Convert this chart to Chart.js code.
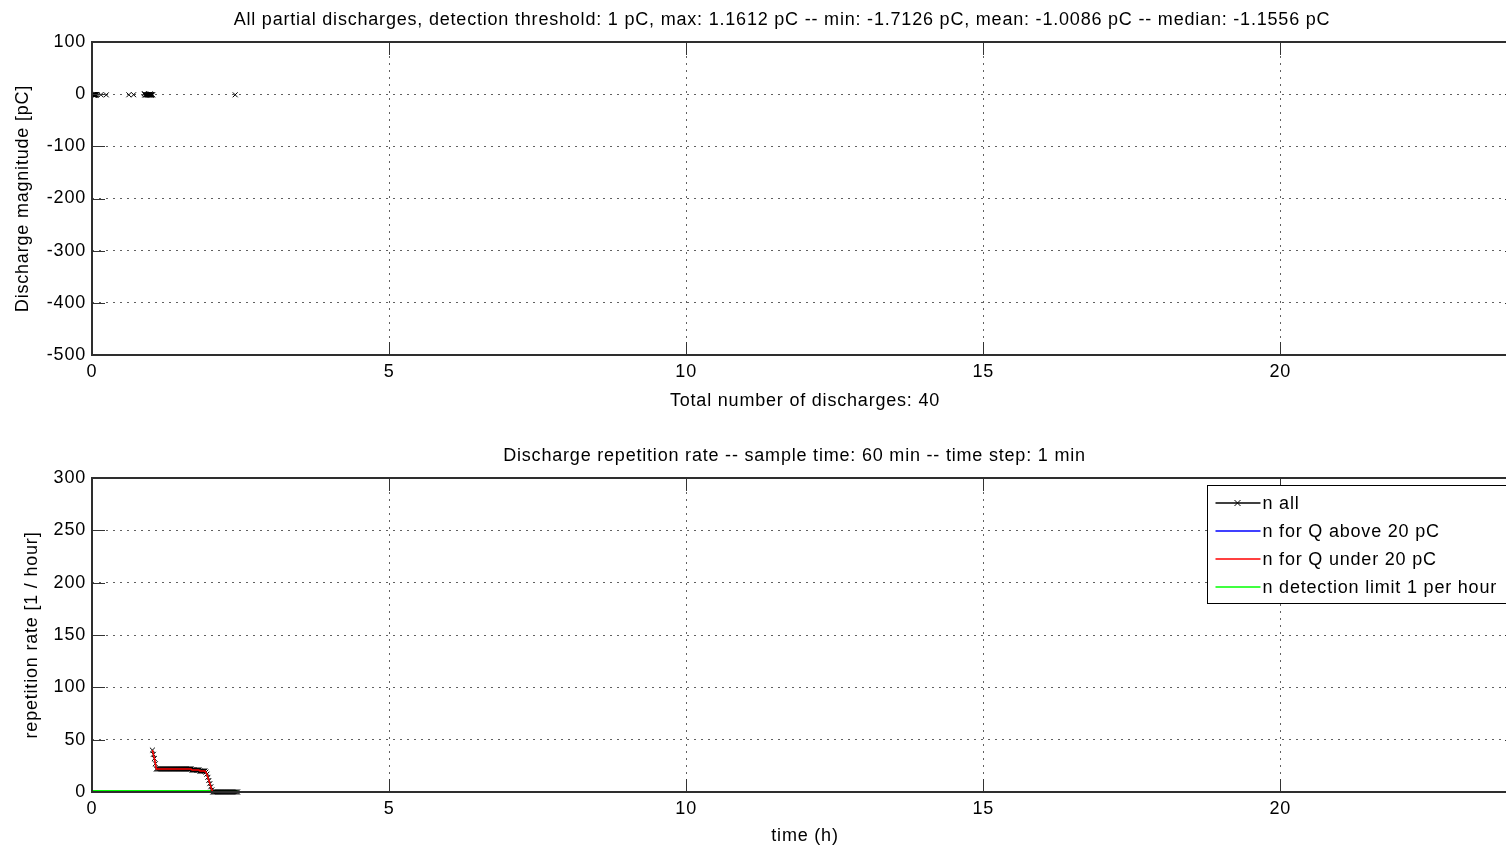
<!DOCTYPE html>
<html><head><meta charset="utf-8">
<script src="https://cdn.jsdelivr.net/npm/chart.js@4.4.1/dist/chart.umd.min.js"></script>
<style>
html,body{margin:0;padding:0;background:#fff;overflow:hidden;width:1506px;height:851px;}
#wrap{position:relative;width:1506px;height:851px;overflow:hidden;background:#fff;}
.box{position:absolute;left:0;width:1560px;}
#top{top:0;height:420px;}
#bot{top:420px;height:431px;}
</style></head><body>
<div id="wrap"><div class="box" id="top"><canvas id="c1"></canvas></div><div class="box" id="bot"><canvas id="c2"></canvas></div></div>
<script>
// ---- data ----
const xTicksH = [0, 5, 10, 15, 20];
const yTicksTop = [-500, -400, -300, -200, -100, 0, 100];
const yTicksBottom = [0, 50, 100, 150, 200, 250, 300];

const dischargeTimesH = [0.010,0.015,0.020,0.025,0.030,0.033,0.036,0.040,0.043,0.047,0.050,0.055,0.060,0.070,0.085,0.150,0.240,
  0.620,0.700,
  0.880,0.890,0.900,0.910,0.920,0.930,0.940,0.950,0.955,0.960,0.965,0.970,0.975,0.980,0.985,0.990,0.995,1.000,1.010,1.020,
  2.410];
const dischargeMagnitudesPC = [-1.20,-1.10,-1.30,-0.90,-1.50,-1.16,-1.40,-0.80,-1.7126,-1.20,-1.00,-1.30,-1.15,-1.25,-0.70,-1.10,-1.35,
  -1.20,-1.05,
  1.1612,-1.30,-1.45,-1.20,-1.16,-1.10,-1.60,-0.95,-1.25,-1.20,-1.15,-1.40,-1.05,0.60,-1.30,-1.20,-1.50,-1.10,-1.17,-1.20,
  -1.25];

const rateTimesMin = [61,62,63,64,65,66,67,68,69,70,71,72,73,74,75,76,77,78,79,80,81,82,83,84,85,86,87,88,89,90,
  91,92,93,94,95,96,97,98,99,100,101,102,103,104,105,106,107,108,109,110,111,112,113,114,115,116,117,118,119,120,
  121,122,123,124,125,126,127,128,129,130,131,132,133,134,135,136,137,138,139,140,141,142,143,144,145,146,147];
const rateAll = [40,36,32,27,
  22,22,22,22,22,22,22,22,22,22,22,22,22,22,22,22,22,22,22,22,22,22,22,22,22,22,22,22,22,22,22,22,22,22,22,22,
  21,21,21,21,21,21,21,21,
  20,20,20,20,20,20,
  19,17,14,11,8,5,2,
  0,0,0,0,0,0,0,0,0,0,0,0,0,0,0,0,0,0,0,0,0,0,0,0,0,0];
const rateAbove20 = [0,0,0,0,0,0,0,0,0,0,0,0,0,0,0,0,0,0,0,0,0,0,0,0,0,0,0,0,0,0,
  0,0,0,0,0,0,0,0,0,0,0,0,0,0,0,0,0,0,0,0,0,0,0,0,0,0,0,0,0,0,
  0,0,0,0,0,0,0,0,0,0,0,0,0,0,0,0,0,0,0,0,0,0,0,0,0,0,0];
const rateUnder20 = [40,36,32,27,
  22,22,22,22,22,22,22,22,22,22,22,22,22,22,22,22,22,22,22,22,22,22,22,22,22,22,22,22,22,22,22,22,22,22,22,22,
  21,21,21,21,21,21,21,21,
  20,20,20,20,20,20,
  19,17,14,11,8,5,2,
  0,0,0,0,0,0,0,0,0,0,0,0,0,0,0,0,0,0,0,0,0,0,0,0,0,0];
const detectionLimitTimesH = [0, 2.45];
const detectionLimitRate = [1, 1];

// ---- rendering ----
const FAM = '"Liberation Sans", Arial, sans-serif';
const SPACING = '0.8px';
const fTitle = {family: FAM, size: 18, weight: 'normal', lineHeight: 1.2};
const fTick = {family: FAM, size: 18, weight: 'normal'};

const spacingPlugin = {
  id: 'spacing',
  beforeLayout(chart) { chart.ctx.letterSpacing = SPACING; },
  beforeDraw(chart) { chart.ctx.letterSpacing = SPACING; }
};

const framePlugin = {
  id: 'frame',
  afterLayout(chart, args, opts) {
    if (opts.titleCenter && chart.titleBlock) {
      chart.titleBlock.left = 0;
      chart.titleBlock.right = 2 * opts.titleCenter;
    }
  },
  afterDraw(chart, args, opts) {
    const {ctx, chartArea: a} = chart;
    const xs = chart.scales.x, ys = chart.scales.y;
    const L = 13;
    ctx.save();
    ctx.strokeStyle = '#333';
    ctx.lineWidth = 1;
    ctx.beginPath();
    xs.ticks.forEach(t => {
      const p = Math.round(xs.getPixelForValue(t.value)) + 0.5;
      ctx.moveTo(p, a.bottom); ctx.lineTo(p, a.bottom - L);
      ctx.moveTo(p, a.top); ctx.lineTo(p, a.top + L);
    });
    ys.ticks.forEach(t => {
      const p = Math.round(ys.getPixelForValue(t.value)) + 0.5;
      ctx.moveTo(a.left, p); ctx.lineTo(a.left + L, p);
      ctx.moveTo(a.right, p); ctx.lineTo(a.right - L, p);
    });
    ctx.stroke();
    ctx.lineWidth = 2;
    ctx.strokeStyle = '#2e2e2e';
    ctx.strokeRect(a.left, a.top, a.right - a.left, a.bottom - a.top);
    ctx.restore();
  }
};

const legendPlugin = {
  id: 'boxLegend',
  afterDraw(chart, args, opts) {
    if (!opts.enabled) return;
    const {ctx, chartArea: a} = chart;
    const x0 = Math.round(a.right - 311) + 0.5, y0 = Math.round(a.top + 7) + 0.5, w = 310, h = 118;
    ctx.save();
    ctx.letterSpacing = SPACING;
    ctx.fillStyle = '#fff';
    ctx.fillRect(x0, y0, w, h);
    ctx.strokeStyle = '#000';
    ctx.lineWidth = 1;
    ctx.strokeRect(x0, y0, w, h);
    ctx.font = '18px ' + FAM;
    ctx.textBaseline = 'middle';
    ctx.textAlign = 'left';
    chart.data.datasets.forEach((ds, i) => {
      const y = Math.round(y0 + 17 + i * 28.3);
      ctx.strokeStyle = opts.colors[i];
      ctx.lineWidth = 1.6;
      ctx.beginPath();
      ctx.moveTo(x0 + 8, y); ctx.lineTo(x0 + 53, y);
      ctx.stroke();
      if (ds.pointRadius > 0) {
        const cx = x0 + 30, r = 3;
        ctx.lineWidth = 1;
        ctx.beginPath();
        ctx.moveTo(cx - r, y - r); ctx.lineTo(cx + r, y + r);
        ctx.moveTo(cx - r, y + r); ctx.lineTo(cx + r, y - r);
        ctx.stroke();
      }
      ctx.fillStyle = '#000';
      ctx.fillText(ds.label, x0 + 55, y + 1);
    });
    ctx.restore();
  }
};

function xScale(titleText, height) {
  return {
    type: 'linear', min: 0, max: 24,
    afterBuildTicks: s => { s.ticks = xTicksH.map(v => ({value: v})); },
    ticks: {padding: 6, font: fTick, color: '#000', maxRotation: 0, autoSkip: false},
    grid: {drawTicks: false, color: 'rgba(0,0,0,0.62)', lineWidth: 1},
    border: {display: false, dash: [2, 5]},
    title: {display: true, text: titleText, font: fTitle, color: '#000', padding: 0},
    afterFit: s => { s.height = height; }
  };
}
function yScale(titleText, min, max, ticksArr, width) {
  return {
    type: 'linear', min: min, max: max,
    afterBuildTicks: s => { s.ticks = ticksArr.map(v => ({value: v})); },
    ticks: {padding: 6, font: fTick, color: '#000', autoSkip: false},
    grid: {drawTicks: false, color: 'rgba(0,0,0,0.62)', lineWidth: 1},
    border: {display: false, dash: [2, 5]},
    title: {display: true, text: titleText, font: fTitle, color: '#000', padding: 0},
    afterFit: s => { s.width = width; }
  };
}

new Chart(document.getElementById('c1'), {
  type: 'scatter',
  data: {
    datasets: [{
      label: 'discharges',
      data: dischargeTimesH.map((t, i) => ({x: t, y: dischargeMagnitudesPC[i]})),
      pointStyle: 'crossRot', pointRadius: 3.5, pointBorderWidth: 1,
      borderColor: '#000', backgroundColor: '#000', showLine: false
    }]
  },
  options: {
    responsive: true, maintainAspectRatio: false, animation: false, events: [],
    layout: {padding: {left: 11.9, right: 42, top: 0, bottom: 8.4}},
    scales: {
      x: xScale('Total number of discharges: 40', 56.6),
      y: yScale('Discharge magnitude [pC]', -500, 100, yTicksTop, 80.1)
    },
    plugins: {
      legend: {display: false}, tooltip: {enabled: false},
      title: {display: true, text: 'All partial discharges, detection threshold: 1 pC, max: 1.1612 pC -- min: -1.7126 pC, mean: -1.0086 pC -- median: -1.1556 pC',
        font: fTitle, color: '#000', padding: {top: 8.8, bottom: 11.6}},
      frame: {titleCenter: 782},
      boxLegend: {enabled: false}
    }
  },
  plugins: [spacingPlugin, framePlugin, legendPlugin]
});

const mk = (ys) => rateTimesMin.map((m, i) => ({x: m / 60, y: ys[i]}));
new Chart(document.getElementById('c2'), {
  type: 'scatter',
  data: {
    datasets: [
      {label: 'n all', data: mk(rateAll), borderColor: '#000', backgroundColor: '#000', borderWidth: 1,
        pointStyle: 'crossRot', pointRadius: 3.5, pointBorderWidth: 1, showLine: true, order: 1, clip: false},
      {label: 'n for Q above 20 pC', data: mk(rateAbove20), borderColor: '#0000ff', borderWidth: 1,
        pointRadius: 0, showLine: true, order: 3, clip: false},
      {label: 'n for Q under 20 pC', data: mk(rateUnder20), borderColor: '#ff0000', borderWidth: 1.5,
        pointRadius: 0, showLine: true, order: 0, clip: false},
      {label: 'n detection limit 1 per hour', data: detectionLimitTimesH.map((t, i) => ({x: t, y: detectionLimitRate[i]})),
        borderColor: '#00ff00', borderWidth: 1.8, pointRadius: 0, showLine: true, order: 2, clip: false}
    ]
  },
  options: {
    responsive: true, maintainAspectRatio: false, animation: false, events: [],
    layout: {padding: {left: 21.4, right: 42, top: 0, bottom: 4.4}},
    scales: {
      x: xScale('time (h)', 54.6),
      y: yScale('repetition rate [1 / hour]', 0, 300, yTicksBottom, 70.6)
    },
    plugins: {
      legend: {display: false}, tooltip: {enabled: false},
      title: {display: true, text: 'Discharge repetition rate -- sample time: 60 min -- time step: 1 min',
        font: fTitle, color: '#000', padding: {top: 24.8, bottom: 11.6}},
      frame: {titleCenter: 794.5},
      boxLegend: {enabled: true, colors: ['#000000', '#0000ff', '#ff0000', '#00ff00']}
    }
  },
  plugins: [spacingPlugin, framePlugin, legendPlugin]
});
</script>
</body></html>
